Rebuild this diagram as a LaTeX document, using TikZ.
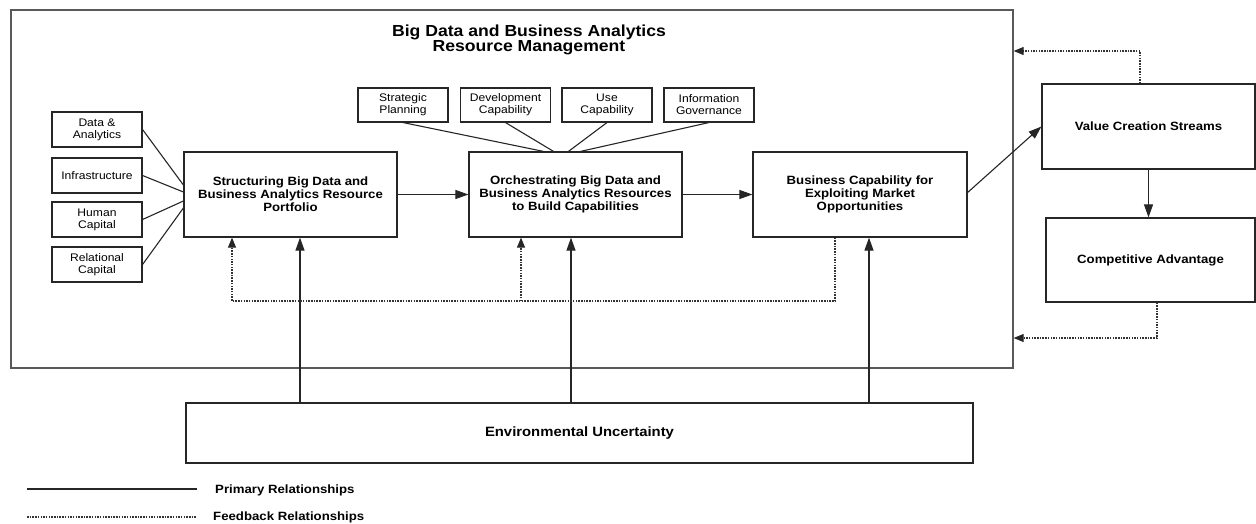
\documentclass[tikz,border=0pt]{standalone}
\usepackage{fontspec}
\setmainfont{Liberation Sans}[FakeStretch=1.1]
\usetikzlibrary{arrows.meta,calc}
\begin{document}
\begin{tikzpicture}[x=1pt,y=1pt,
  box/.style={draw=black!85,line width=1.2pt,rectangle,inner sep=0pt,align=center},
  mainbox/.style={box,minimum width=213pt,minimum height=85pt,font=\fontsize{12}{13}\selectfont\bfseries},
  smallbox/.style={box,line width=1.1pt,minimum width=90pt,minimum height=35pt,font=\fontsize{11}{12}\selectfont},
  link/.style={draw=black!85,line width=1.1pt},
  arr/.style={link,-{Triangle[length=13pt,width=9pt]}},
  fb/.style={draw=black!80,line width=1.1pt,dash pattern=on 1.5pt off 1.2pt},
  fbarr/.style={fb,-{Triangle[length=10pt,width=8pt,color=black!85]}},
  lbl/.style={font=\fontsize{12}{13}\selectfont\bfseries,anchor=west,inner sep=0pt}]
\useasboundingbox (0,0) rectangle (1256,-523);
% outer frame
\node[draw=black!65,line width=1.3pt,rectangle,inner sep=0pt,minimum width=1002pt,minimum height=358pt] (outer) at (512,-189) {};
\node[font=\fontsize{16}{15.5}\selectfont\bfseries,align=center] (title) at (529,-40) {Big Data and Business Analytics\\Resource Management};
% left boxes
\node[smallbox] (da) at (97,-129.5) {Data \&\\Analytics};
\node[smallbox] (inf) at (97,-175.5) {Infrastructure};
\node[smallbox] (hum) at (97,-219.5) {Human\\Capital};
\node[smallbox] (rel) at (97,-264.5) {Relational\\Capital};
% top boxes
\node[smallbox,minimum height=34pt] (sp) at (403,-105) {Strategic\\Planning};
\node[smallbox,minimum height=34pt] (dc) at (505.5,-105) {Development\\Capability};
\node[smallbox,minimum height=34pt] (uc) at (607,-105) {Use\\Capability};
\node[smallbox,minimum height=34pt] (ig) at (709,-105) {Information\\Governance};
% main boxes
\node[mainbox] (s) at (290.5,-194.5) {Structuring Big Data and\\Business Analytics Resource\\Portfolio};
\node[mainbox] (o) at (575.5,-194.5) {Orchestrating Big Data and\\Business Analytics Resources\\to Build Capabilities};
\node[mainbox,minimum width=214pt] (b) at (860,-194.5) {Business Capability for\\Exploiting Market\\Opportunities};
\node[mainbox] (v) at (1148.5,-126.5) {Value Creation Streams};
\node[mainbox,minimum width=209pt,minimum height=84pt] (c) at (1150.5,-260) {Competitive Advantage};
\node[mainbox,minimum width=787pt,minimum height=60pt,font=\fontsize{13.5}{14}\selectfont\bfseries] (env) at (579.5,-433) {Environmental Uncertainty};
% left connectors
\draw[link] (da.east) -- ($(s.west)+(0,9.5)$);
\draw[link] (inf.east) -- ($(s.west)+(0,2.5)$);
\draw[link] (hum.east) -- ($(s.west)+(0,-6.5)$);
\draw[link] (rel.east) -- ($(s.west)+(0,-13.5)$);
% top connectors
\draw[link] (sp.south) -- ($(o.north)+(-32,0)$);
\draw[link] (dc.south) -- ($(o.north)+(-22,0)$);
\draw[link] (uc.south) -- ($(o.north)+(-7,0)$);
\draw[link] (ig.south) -- ($(o.north)+(5,0)$);
% primary flow
\draw[arr] (s.east) -- (o.west);
\draw[arr] (o.east) -- (b.west);
\draw[arr] ($(b.east)+(0,2)$) -- (v.west);
\draw[arr] (v.south) -- (v.south |- c.north);
% environmental uncertainty
\coordinate (es) at ($(s.south)+(9.5,0)$);
\coordinate (eo) at ($(o.south)+(-4.5,0)$);
\coordinate (eb) at ($(b.south)+(9,0)$);
\draw[arr] (env.north -| es) -- (es);
\draw[arr] (env.north -| eo) -- (eo);
\draw[arr] (env.north -| eb) -- (eb);
% internal feedback
\coordinate (fbS) at ($(b.south)+(-25,0)$);
\coordinate (fs) at ($(s.south)+(-58.5,0)$);
\coordinate (fo) at ($(o.south)+(-54.5,0)$);
\coordinate (fy) at (0,-301);
\draw[fbarr] (fbS) -- (fbS |- fy) -- (fs |- fy) -- (fs);
\draw[fbarr] (fo |- fy) -- (fo);
% external feedback
\coordinate (fv) at ($(v.north)+(-8.5,0)$);
\coordinate (fvy) at (0,-51);
\draw[fbarr] (fv) -- (fv |- fvy) -- (outer.east |- fvy);
\coordinate (fc) at ($(c.south)+(6.5,0)$);
\coordinate (fcy) at (0,-338);
\draw[fbarr] (fc) -- (fc |- fcy) -- (outer.east |- fcy);
% legend
\coordinate (l1a) at (27,-489); \coordinate (l1b) at (197,-489);
\coordinate (l2a) at (27,-517); \coordinate (l2b) at (197,-517);
\draw[link,line width=1.4pt] (l1a) -- (l1b);
\draw[fb] (l2a) -- (l2b);
\node[lbl] (lp) at (215,-490) {Primary Relationships};
\node[lbl] (lf) at (213,-517) {Feedback Relationships};
\end{tikzpicture}
\end{document}
